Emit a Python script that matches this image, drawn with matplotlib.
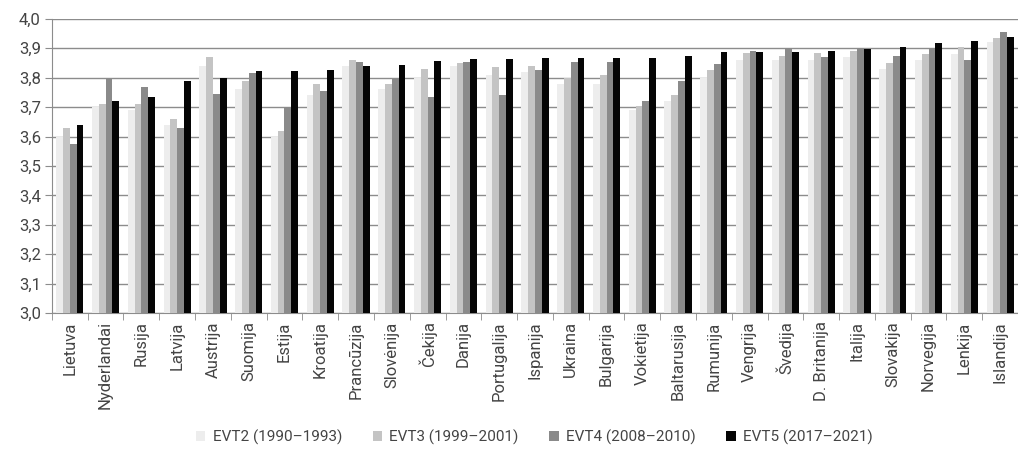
import matplotlib
matplotlib.use("Agg")
import matplotlib.pyplot as plt
import numpy as np

countries = ["Lietuva", "Nyderlandai", "Rusija", "Latvija", "Austrija", "Suomija",
             "Estija", "Kroatija", "Prancūzija", "Slovėnija", "Čekija", "Danija",
             "Portugalija", "Ispanija", "Ukraina", "Bulgarija", "Vokietija",
             "Baltarusija", "Rumunija", "Vengrija", "Švedija", "D. Britanija",
             "Italija", "Slovakija", "Norvegija", "Lenkija", "Islandija"]

evt2 = [3.60, 3.70, 3.69, 3.64, 3.84, 3.76, 3.60, 3.74, 3.84, 3.76, 3.80, 3.84,
        3.81, 3.82, 3.78, 3.78, 3.69, 3.72, 3.80, 3.86, 3.86, 3.86, 3.87, 3.83,
        3.86, 3.88, 3.92]
evt3 = [3.63, 3.71, 3.71, 3.66, 3.87, 3.79, 3.62, 3.78, 3.86, 3.78, 3.83, 3.85,
        3.835, 3.84, 3.80, 3.81, 3.705, 3.74, 3.825, 3.885, 3.875, 3.885, 3.89,
        3.85, 3.88, 3.905, 3.935]
evt4 = [3.575, 3.795, 3.77, 3.63, 3.745, 3.815, 3.70, 3.755, 3.855, 3.795, 3.735,
        3.855, 3.74, 3.825, 3.855, 3.855, 3.72, 3.79, 3.845, 3.89, 3.90, 3.87,
        3.90, 3.875, 3.90, 3.86, 3.955]
evt5 = [3.64, 3.72, 3.735, 3.79, 3.80, 3.822, 3.824, 3.826, 3.84, 3.843, 3.857,
        3.864, 3.864, 3.866, 3.866, 3.867, 3.867, 3.873, 3.887, 3.889, 3.889,
        3.89, 3.897, 3.905, 3.917, 3.926, 3.94]

labels = ["EVT2 (1990–1993)", "EVT3 (1999–2001)", "EVT4 (2008–2010)", "EVT5 (2017–2021)"]
colors = ["#ededed", "#c4c4c4", "#8a8a8a", "#050505"]

plt.rcParams["font.family"] = ["Roboto", "DejaVu Sans"]

fig = plt.figure(figsize=(10.18, 4.61), dpi=100)
ax = fig.add_axes([0.051, 0.321, 0.949, 0.638])

x = np.arange(len(countries))
w = 0.19
for k, (vals, lab, col) in enumerate(zip([evt2, evt3, evt4, evt5], labels, colors)):
    ax.bar(x + (k - 1.5) * w, np.array(vals) - 3.0, width=w, bottom=3.0,
           color=col, label=lab, zorder=3)

ax.set_ylim(3.0, 4.0)
ax.set_xlim(-0.5, len(countries) - 0.5)
yt = np.round(np.arange(3.0, 4.01, 0.1), 1)
ax.set_yticks(yt)
ax.set_yticklabels([f"{v:.1f}".replace(".", ",") for v in yt], fontsize=12, color="#444444")
ax.yaxis.grid(True, color="#8c8c8c", linewidth=1.0, zorder=0)
ax.set_axisbelow(True)

ax.set_xticks(x)
ax.set_xticklabels(countries, rotation=90, fontsize=12, color="#444444")
ax.tick_params(axis="x", length=0, pad=6)
ax.set_xticks(np.arange(-0.5, len(countries), 1), minor=True)
ax.tick_params(axis="x", which="minor", length=5, color="#8c8c8c", direction="out")
ax.tick_params(axis="y", length=5, color="#8c8c8c", direction="out", pad=3)

for s in ["top", "right"]:
    ax.spines[s].set_visible(False)
for s in ["left", "bottom"]:
    ax.spines[s].set_color("#8c8c8c")

fig.legend(loc="center", bbox_to_anchor=(0.525, 0.052), ncol=4, frameon=False,
           fontsize=11, handlelength=0.6, handleheight=0.6, handletextpad=0.5,
           columnspacing=2.0, labelcolor="#444444")

fig.savefig("out.png", dpi=100)
